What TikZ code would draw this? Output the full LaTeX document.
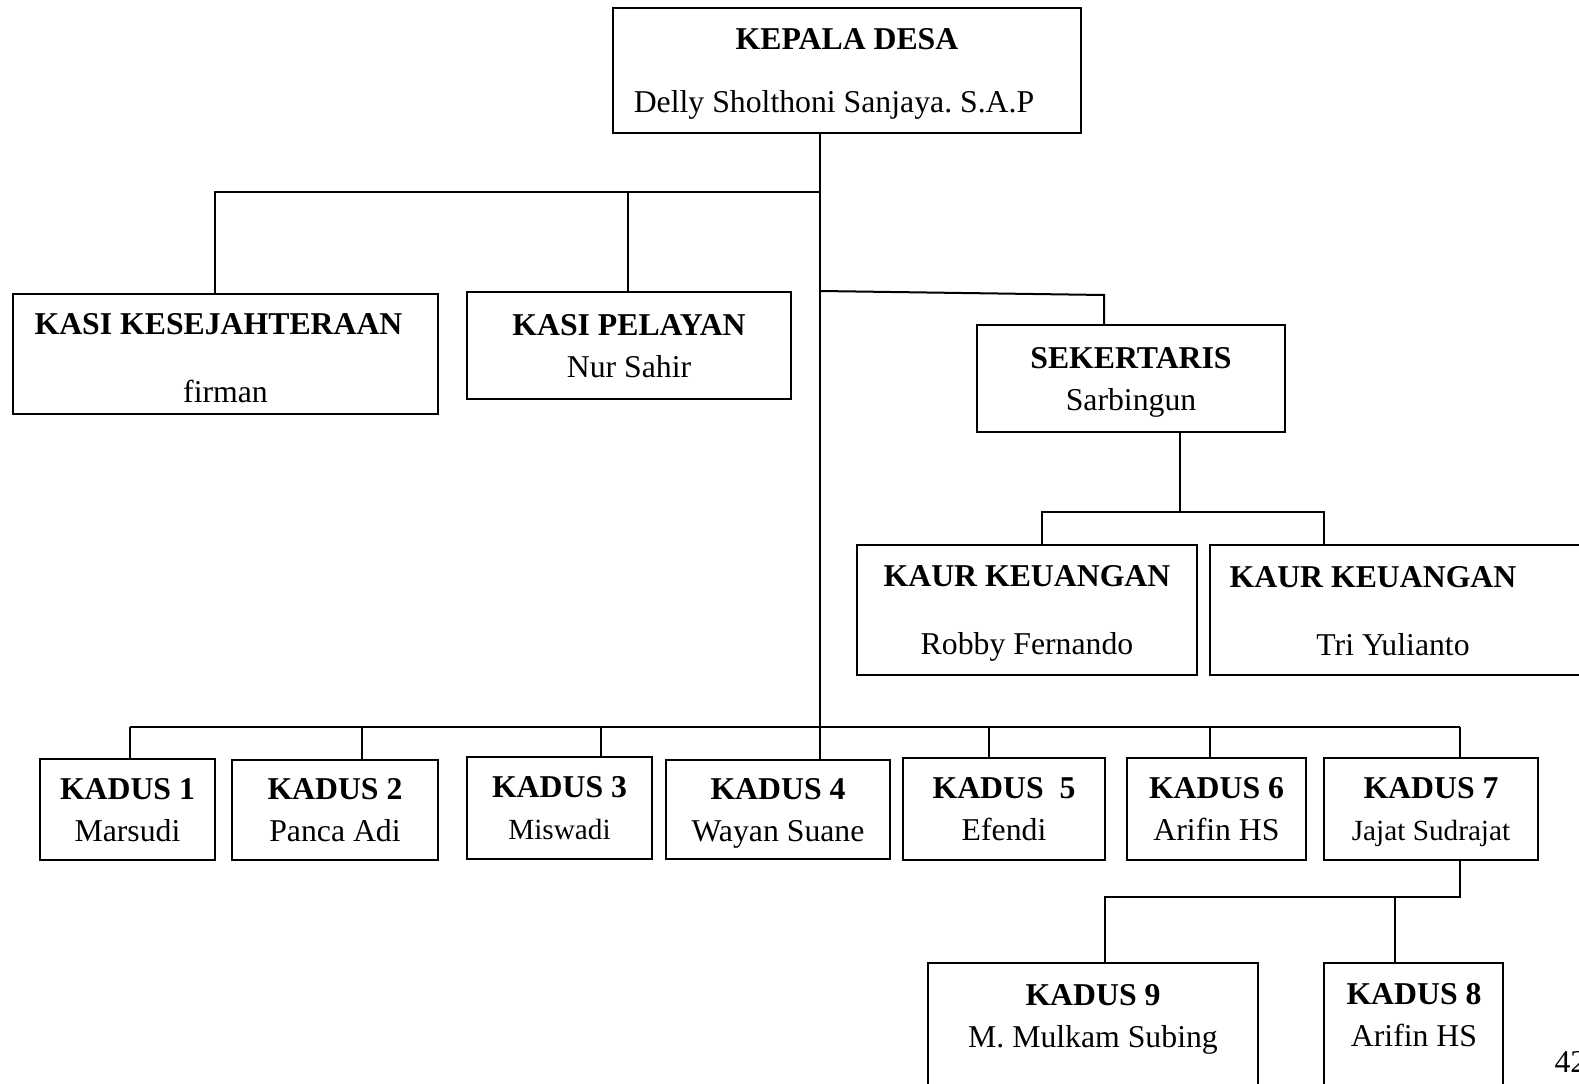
\documentclass[tikz,border=0pt]{standalone}
\usepackage{fontspec}
\setmainfont{Liberation Serif}
\usetikzlibrary{positioning}
\frenchspacing

\begin{document}
\begin{tikzpicture}[x=0.4pt, y=-0.4pt,
                unit/.style={draw, line width=0.8pt, inner sep=0pt, align=center, text depth=0pt, font=\fontsize{12.7}{16.8}\selectfont},
                txt/.style={inner sep=0pt, align=center, font=\fontsize{12.7}{16.8}\selectfont},
                link/.style={line width=0.8pt}]

                \useasboundingbox (0,0) rectangle (1579,1084);

                % Kepala desa
                \node[unit, minimum width=187.2pt, minimum height=50pt] (kades) at (847,70.5)
                    {\textbf{KEPALA DESA}\\[8.4pt]Delly Sholthoni Sanjaya. S.A.P\hspace*{10.4pt}};

                % Kasi
                \node[unit, minimum width=170pt, minimum height=48pt] (kesra) at (225.5,354)
                    {\rule{0pt}{12pt}\textbf{KASI KESEJAHTERAAN}\hspace*{5.6pt}\\[10.4pt]firman};
                \node[unit, minimum width=129.6pt, minimum height=42.8pt] (pelayan) at (629,345.5)
                    {\textbf{KASI PELAYAN}\\Nur Sahir};

                % Sekertaris and kaur
                \node[unit, minimum width=123.2pt, minimum height=42.8pt] (sekdes) at (1131,378.5)
                    {\textbf{SEKERTARIS}\\Sarbingun};
                \node[unit, minimum width=136pt, minimum height=52pt] (kaur1) at (1027,610)
                    {\textbf{KAUR KEUANGAN}\\[10.4pt]Robby Fernando};
                \node[unit, minimum width=164pt, minimum height=52pt] (kaur2) at (1415,610) {};
                \node[txt] (kaur2t) at (1373,577) {\textbf{KAUR KEUANGAN}};
                \node[txt] (kaur2n) at (1393,645) {Tri Yulianto};

                % Kadus row
                \node[unit, minimum width=70pt, minimum height=40.4pt] (kadus1) at (127.5,809.5) {\textbf{KADUS 1}\\Marsudi};
                \node[unit, minimum width=82.4pt, minimum height=40pt] (kadus2) at (335,810) {\textbf{KADUS 2}\\Panca Adi};
                \node[unit, minimum width=74pt, minimum height=40.8pt] (kadus3) at (559.5,808) {\textbf{KADUS 3}\\{\fontsize{11.7}{16.8}\selectfont Miswadi}};
                \node[unit, minimum width=89.6pt, minimum height=39.6pt] (kadus4) at (778,809.5) {\textbf{KADUS 4}\\Wayan Suane};
                \node[unit, minimum width=80.8pt, minimum height=40.8pt] (kadus5) at (1004,809) {\textbf{KADUS~~5}\\Efendi};
                \node[unit, minimum width=71.6pt, minimum height=40.8pt] (kadus6) at (1216.5,809) {\textbf{KADUS 6}\\Arifin HS};
                \node[unit, minimum width=85.6pt, minimum height=40.8pt] (kadus7) at (1431,809) {\textbf{KADUS 7}\\{\fontsize{11.7}{16.8}\selectfont Jajat Sudrajat}};

                % Kadus under kadus 7
                \node[unit, minimum width=132pt, minimum height=54.8pt] (kadus9) at (1093,1031.5) {};
                \node[txt] (kadus9t) at (1093,1019) {\textbf{KADUS 9}\\M. Mulkam Subing};
                \node[unit, minimum width=71.6pt, minimum height=54.8pt] (kadus8) at (1413.5,1031.5) {};
                \node[txt] (kadus8t) at (1414,1015) {\textbf{KADUS 8}\\Arifin HS};

                % page number
                \node[txt, anchor=west] (page) at (1554,1062) {42};

                % Bus points
                \coordinate (top) at (820,192);
                \coordinate (low) at (820,727);
                \coordinate (c1) at (215,192);
                \coordinate (c2) at (628,192);
                \coordinate (s1) at (820,291);
                \coordinate (s2) at (1104,295);
                \coordinate (s0) at (1180,512);
                \coordinate (ka1) at (1042,512);
                \coordinate (ka2) at (1324,512);
                \coordinate (d1) at (130,727);
                \coordinate (d2) at (362,727);
                \coordinate (d3) at (601,727);
                \coordinate (d5) at (989,727);
                \coordinate (d6) at (1210,727);
                \coordinate (d7) at (1460,727);
                \coordinate (kd7) at (1460,897);
                \coordinate (kd9) at (1105,897);
                \coordinate (kd8) at (1395,897);

                % Lines from kepala desa
                \draw[link] (top |- kades.south) -- (low);
                \draw[link] (c1 |- kesra.north) -- (c1) -- (top);
                \draw[link] (c2) -- (c2 |- pelayan.north);
                \draw[link] (s1) -- (s2) -- (s2 |- sekdes.north);

                % Sekertaris to kaur
                \draw[link] (s0 |- sekdes.south) -- (s0);
                \draw[link] (ka1 |- kaur1.north) -- (ka1) -- (ka2) -- (ka2 |- kaur2.north);

                % Kadus bus
                \draw[link] (d1) -- (d7);
                \draw[link] (d1) -- (d1 |- kadus1.north);
                \draw[link] (d2) -- (d2 |- kadus2.north);
                \draw[link] (d3) -- (d3 |- kadus3.north);
                \draw[link] (low) -- (low |- kadus4.north);
                \draw[link] (d5) -- (d5 |- kadus5.north);
                \draw[link] (d6) -- (d6 |- kadus6.north);
                \draw[link] (d7) -- (d7 |- kadus7.north);

                % Kadus 7 to kadus 8 and 9
                \draw[link] (kd7 |- kadus7.south) -- (kd7) -- (kd9) -- (kd9 |- kadus9.north);
                \draw[link] (kd8) -- (kd8 |- kadus8.north);
\end{tikzpicture}
\end{document}
